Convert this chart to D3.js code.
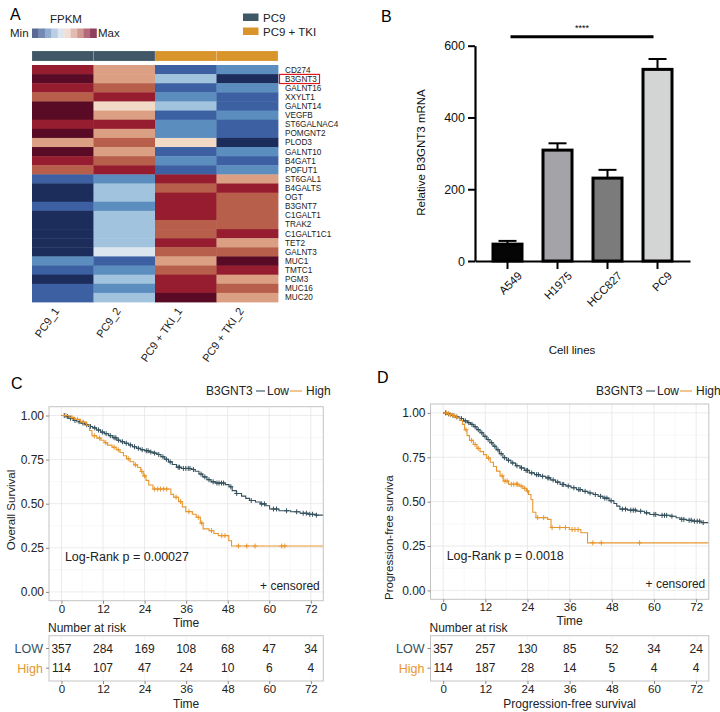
<!DOCTYPE html>
<html><head><meta charset="utf-8">
<script src="https://cdn.jsdelivr.net/npm/d3@7"></script>
<style>body{margin:0;background:#fff}svg{display:block}text{font-family:"Liberation Sans",Arial,Helvetica,sans-serif}</style>
</head><body><svg id="c" width="720" height="712"></svg>
<script>
// ---------------- DATA ----------------
const genes = ["CD274","B3GNT3","GALNT16","XXYLT1","GALNT14","VEGFB","ST6GALNAC4","POMGNT2","PLOD3","GALNT10","B4GAT1","POFUT1","ST6GAL1","B4GALTS","OGT","B3GNT7","C1GALT1","TRAK2","C1GALT1C1","TET2","GALNT3","MUC1","TMTC1","PGM3","MUC16","MUC20"];
const samples = ["PC9_1","PC9_2","PC9 + TKI_1","PC9 + TKI_2"];
const sampleGroup = ["PC9","PC9","PC9 + TKI","PC9 + TKI"];
const groupNames = ["PC9","PC9 + TKI"];
// scaled FPKM (z-score) per gene: PC9_1, PC9_2, PC9+TKI_1, PC9+TKI_2
const expr = [
 [1.5,0.55,-1.5,-1.0],
 [2,0.55,-0.55,-2],
 [1.5,1.0,-1.5,-1.0],
 [1.0,1.5,-1.0,-1.5],
 [2,0.15,-0.55,-1.5],
 [2,0.55,-1.5,-1.0],
 [1.5,1.5,-1.0,-1.5],
 [2,0.55,-1.0,-1.5],
 [0.55,1.0,0.15,-2],
 [2,0.55,-1.5,-1.0],
 [1.5,1.0,-1.0,-1.5],
 [1.0,1.5,-1.5,-1.0],
 [-1.5,-1.0,1.5,0.55],
 [-2,-0.55,1.0,1.5],
 [-2,-0.55,1.5,1.0],
 [-1.5,-1.0,1.5,1.0],
 [-2,-0.55,1.5,1.0],
 [-2,-0.55,1.0,1.0],
 [-2,-0.55,1.0,1.5],
 [-2,-0.55,1.5,0.55],
 [-2,-0.15,1.0,1.0],
 [-1.0,-1.5,0.55,2],
 [-1.5,-1.0,1.0,1.5],
 [-2,-0.55,1.5,0.55],
 [-1.5,-1.0,1.5,1.0],
 [-1.5,-0.55,2,0.55]
];
const highlightGene = "B3GNT3";

const cellLines = ["A549","H1975","HCC827","PC9"];
const mrna = [47,309,231,534];
const mrnaErr = [9,19,23,29];
const mrnaTicks = [0,200,400,600];

const kmTicks = [0,12,24,36,48,60,72];
const survTicks = [0,0.25,0.5,0.75,1];
const riskGroups = ["LOW","High"];

const osLow = [[0,1],[1.2,0.994],[2.1,0.985],[3.4,0.972],[4.5,0.965],[5.6,0.957],[6.8,0.948],[7.9,0.938],[9.0,0.93],[10.1,0.918],[11.3,0.906],[12.4,0.897],[13.6,0.886],[14.8,0.874],[16.0,0.86],[17.1,0.851],[18.2,0.843],[19.4,0.833],[20.5,0.823],[21.7,0.814],[22.8,0.806],[24.0,0.8],[25.3,0.793],[26.5,0.787],[27.6,0.779],[28.7,0.766],[29.8,0.752],[30.9,0.737],[32.0,0.722],[33.2,0.707],[34.6,0.7],[37.5,0.694],[38.6,0.684],[39.7,0.668],[40.8,0.652],[42.0,0.636],[43.2,0.624],[44.5,0.617],[47.3,0.608],[48.4,0.596],[49.3,0.574],[50.5,0.558],[52.0,0.543],[53.2,0.53],[54.3,0.518],[56.0,0.51],[57.4,0.499],[59.0,0.488],[60.1,0.47],[62.8,0.46],[66.2,0.454],[68.9,0.446],[71.2,0.44],[73.5,0.435]];
const osLowCens = [0.8,1.7,2.6,3.9,5.1,6.2,7.3,8.4,9.6,10.7,11.8,12.9,14.1,15.2,15.7,16.5,17.6,18.7,19.9,21.1,22.2,23.3,24.5,25.0,25.8,26.9,28.1,29.3,30.3,31.4,33.7,34.1,35.2,35.9,36.6,37.1,38.1,40.3,41.4,42.6,43.8,44.9,45.5,46.2,46.8,48.9,50.6,54.8,57.8,58.6,61.2,62.1,65.0,67.9,69.8,70.7,71.7,72.5,73.6];
const osHigh = [[0,1],[2.2,0.99],[3.8,0.978],[5.5,0.963],[7.2,0.945],[8.1,0.915],[8.8,0.885],[10.2,0.872],[11.4,0.86],[12.3,0.846],[13.3,0.832],[14.6,0.82],[15.8,0.806],[16.9,0.79],[17.9,0.772],[18.8,0.755],[19.8,0.738],[20.9,0.72],[22.0,0.705],[22.9,0.683],[23.6,0.658],[24.4,0.632],[25.2,0.606],[26.4,0.583],[31.6,0.553],[32.4,0.537],[33.8,0.512],[34.9,0.482],[35.9,0.455],[37.8,0.44],[38.9,0.423],[40.1,0.39],[40.9,0.357],[42.6,0.347],[44.0,0.331],[45.3,0.319],[48.3,0.29],[49.1,0.26]];
const osHighCens = [1.3,3.0,4.6,6.3,9.5,11.0,12.8,15.2,16.4,19.3,21.4,23.2,24.0,26.9,27.8,28.6,29.5,30.4,33.1,34.4,36.8,39.5,40.5,43.3,46.3,47.2,51.1,53.5,55.9,63.6,64.5];

const pfsLow = [[0,1],[1.1,0.994],[2.3,0.985],[3.5,0.977],[4.7,0.968],[5.8,0.955],[6.9,0.945],[7.8,0.935],[8.7,0.922],[9.6,0.905],[10.5,0.888],[11.4,0.868],[12.4,0.85],[13.3,0.832],[14.2,0.812],[15.1,0.792],[16.0,0.77],[17.0,0.748],[18.1,0.733],[19.3,0.718],[20.6,0.702],[21.9,0.69],[23.1,0.676],[24.5,0.662],[26.0,0.652],[27.6,0.643],[29.2,0.634],[30.6,0.622],[32.0,0.61],[33.3,0.597],[34.9,0.588],[36.4,0.578],[38.0,0.568],[39.7,0.558],[41.2,0.549],[42.7,0.54],[44.1,0.53],[45.5,0.52],[47.2,0.505],[48.6,0.49],[49.4,0.475],[50.3,0.458],[52.5,0.452],[55.1,0.446],[57.3,0.437],[58.8,0.428],[61.2,0.423],[64.6,0.418],[66.3,0.409],[67.4,0.4],[69.2,0.395],[71.1,0.39],[73.4,0.382]];
const pfsLowCens = [0.7,1.6,2.8,3.9,5.2,6.3,7.3,8.2,9.1,10.0,11.0,11.9,12.8,13.8,14.7,15.6,16.5,17.5,18.6,19.8,21.0,22.3,23.6,24.0,25.2,26.6,27.1,28.3,29.8,30.1,31.3,32.6,33.9,34.3,35.6,37.2,38.6,39.0,40.4,41.8,43.3,44.8,46.0,46.6,47.8,51.0,51.9,53.4,54.1,54.7,56.2,57.9,60.0,60.5,62.3,63.0,63.6,65.1,67.9,68.5,70.0,70.6,71.5,72.3,73.0,74.0];
const pfsHigh = [[0,1],[1.5,0.99],[2.6,0.983],[3.8,0.972],[4.7,0.958],[5.5,0.935],[6.1,0.905],[6.8,0.872],[7.5,0.845],[8.6,0.822],[9.6,0.8],[10.5,0.782],[11.5,0.765],[12.4,0.745],[13.4,0.722],[14.3,0.698],[15.2,0.672],[16.2,0.645],[17.1,0.616],[18.6,0.598],[21.6,0.588],[22.7,0.575],[23.7,0.56],[24.3,0.54],[25.0,0.512],[25.5,0.44],[26.4,0.41],[29.7,0.4],[30.7,0.354],[35.9,0.343],[39.2,0.325],[41.1,0.268]];
const pfsHighCens = [0.9,2.1,3.3,6.5,8.1,9.1,10.0,12.9,16.8,17.6,18.2,19.4,20.1,20.8,21.2,22.2,23.2,24.0,26.9,28.6,31.0,33.2,34.8,36.7,37.5,38.4,42.6,45.0,55.9];

const osRiskLow = [357,284,169,108,68,47,34];
const osRiskHigh = [114,107,47,24,10,6,4];
const pfsRiskLow = [357,257,130,85,52,34,24];
const pfsRiskHigh = [114,187,28,14,5,4,4];

// ---------------- STYLE ----------------
const heatStops = [-2,-1.5,-1,-0.55,-0.15,0.15,0.55,1,1.5,2];
const heatColors = ["#1c2c5b","#3d60a2","#5b8dbf","#a1c3de","#dbe6ef","#f2dbc6","#dba083","#b85f4b","#961d2f","#590b25"];
const legendBarColors = ["#5a6a95","#7288b5","#93acd0","#b9cde3","#dde6ef","#f1ded6","#e2bcb1","#cf9892","#b46a7a","#8e3f5e"];
const groupColors = {"PC9":"#3f5766","PC9 + TKI":"#d9952b"};
const barFills = ["#050505","#a3a3a8","#7b7b7b","#d3d5d4"];
const cLow = "#34505d", cHigh = "#e8962e";
const FONT = '"Liberation Sans",Arial,sans-serif';

const svg = d3.select("#c");

// ================= PANEL A =================
const gA = svg.append("g");
gA.append("text").attr("x",10).attr("y",19.5).attr("font-size",16).text("A");
gA.append("text").attr("x",50).attr("y",23).attr("font-size",11.5).attr("fill","#222").text("FPKM");
gA.append("text").attr("x",10).attr("y",37).attr("font-size",11.5).attr("fill","#222").text("Min");
gA.append("text").attr("x",98).attr("y",37).attr("font-size",11.5).attr("fill","#222").text("Max");
const xLeg = d3.scaleBand().domain(d3.range(legendBarColors.length)).range([32,96.5]);
gA.selectAll("rect.leg").data(legendBarColors).join("rect")
  .attr("x",(d,i)=>xLeg(i)).attr("y",28.5).attr("width",xLeg.bandwidth()+0.3).attr("height",9.5).attr("fill",d=>d);

const yGrp = d3.scaleBand().domain(groupNames).range([11,39]);
groupNames.forEach(gn=>{
  gA.append("rect").attr("x",243).attr("y",yGrp(gn)+2.5).attr("width",15.5).attr("height",7.5).attr("fill",groupColors[gn]);
  gA.append("text").attr("x",263).attr("y",yGrp(gn)+10.5).attr("font-size",11.5).attr("fill","#222").text(gn);
});

const xA = d3.scaleBand().domain(samples).range([32,278]);
const yA = d3.scaleBand().domain(genes).range([65,302]);
const heatColor = d3.scaleLinear().domain(heatStops).range(heatColors);

gA.selectAll("rect.ann").data(samples).join("rect")
  .attr("x",d=>xA(d)).attr("y",51).attr("width",xA.bandwidth()).attr("height",10)
  .attr("fill",(d,i)=>groupColors[sampleGroup[i]]).attr("stroke","#fff").attr("stroke-opacity",0.25).attr("stroke-width",0.5);

const cells = [];
genes.forEach((g,i)=>samples.forEach((s,j)=>cells.push({g,s,v:expr[i][j]})));
gA.selectAll("rect.cell").data(cells).join("rect")
  .attr("x",d=>xA(d.s)).attr("y",d=>yA(d.g)).attr("width",xA.bandwidth()+0.4).attr("height",yA.bandwidth()+0.4)
  .attr("fill",d=>heatColor(d.v));

gA.selectAll("text.gene").data(genes).join("text")
  .attr("x",285).attr("y",d=>yA(d)+yA.bandwidth()/2).attr("dy","0.36em")
  .attr("font-size",8.2).attr("fill","#222").text(d=>d);
gA.append("rect").attr("x",279.5).attr("y",yA(highlightGene)+0.3).attr("width",40).attr("height",yA.bandwidth())
  .attr("fill","none").attr("stroke","#e0191e").attr("stroke-width",1.2);

gA.selectAll("text.samp").data(samples).join("text")
  .attr("transform",d=>`translate(${xA(d)+xA.bandwidth()/2-3},311) rotate(-55)`)
  .attr("text-anchor","end").attr("font-size",11).attr("fill","#222").text(d=>d);

// ================= PANEL B =================
const gB = svg.append("g");
gB.append("text").attr("x",381).attr("y",21.5).attr("font-size",16).text("B");
const xB = d3.scaleBand().domain(cellLines).range([475,690]).paddingInner(0).paddingOuter(0.15);
const yB = d3.scaleLinear().domain([0,600]).range([261,45.7]);
const barW = 29;

const axY = gB.append("g").attr("transform","translate(475,0)")
  .call(d3.axisLeft(yB).tickValues(mrnaTicks).tickSize(7).tickSizeOuter(0).tickPadding(3));
const axX = gB.append("g").attr("transform","translate(0,261)")
  .call(d3.axisBottom(xB).tickSize(8).tickSizeOuter(0).tickPadding(4));
[axY,axX].forEach(a=>{
  a.select(".domain").attr("stroke","#000").attr("stroke-width",2.2);
  a.selectAll(".tick line").attr("stroke","#000").attr("stroke-width",2);
  a.selectAll("text").attr("font-family",FONT).attr("fill","#111");
});
axY.selectAll("text").attr("font-size",12.5);
axX.selectAll("text").attr("font-size",11.5).attr("text-anchor","end")
  .attr("transform","translate(2,2) rotate(-45)").attr("dy","0.6em");

const bars = cellLines.map((c,i)=>({c,v:mrna[i],e:mrnaErr[i],f:barFills[i]}));
gB.selectAll("line.err").data(bars).join("line")
  .attr("x1",d=>xB(d.c)+xB.bandwidth()/2).attr("x2",d=>xB(d.c)+xB.bandwidth()/2)
  .attr("y1",d=>yB(d.v)).attr("y2",d=>yB(d.v+d.e)).attr("stroke","#000").attr("stroke-width",2);
gB.selectAll("line.cap").data(bars).join("line")
  .attr("x1",d=>xB(d.c)+xB.bandwidth()/2-9).attr("x2",d=>xB(d.c)+xB.bandwidth()/2+9)
  .attr("y1",d=>yB(d.v+d.e)).attr("y2",d=>yB(d.v+d.e)).attr("stroke","#000").attr("stroke-width",2);
gB.selectAll("rect.bar").data(bars).join("rect")
  .attr("x",d=>xB(d.c)+(xB.bandwidth()-barW)/2).attr("y",d=>yB(d.v)).attr("width",barW)
  .attr("height",d=>yB(0)-yB(d.v)).attr("fill",d=>d.f).attr("stroke","#000").attr("stroke-width",3);

const sx1 = xB(cellLines[0])+xB.bandwidth()/2+3, sx2 = xB(cellLines[3])+xB.bandwidth()/2-4;
gB.append("line").attr("x1",sx1).attr("x2",sx2).attr("y1",36.7).attr("y2",36.7).attr("stroke","#000").attr("stroke-width",3);
gB.append("text").attr("x",(sx1+sx2)/2).attr("y",31).attr("text-anchor","middle").attr("font-size",9).text("****");
gB.append("text").attr("transform","translate(425,152.5) rotate(-90)").attr("text-anchor","middle")
  .attr("font-size",11.5).attr("fill","#111").text("Relative B3GNT3 mRNA");
gB.append("text").attr("x",572).attr("y",354).attr("text-anchor","middle").attr("font-size",11.5).attr("fill","#111").text("Cell lines");

// ================= KM PANELS =================
function stepAt(steps,t){let s=steps[0][1];for(const p of steps){if(p[0]<=t)s=p[1];else break;}return s;}

function styleAxis(a){
  a.select(".domain").remove();
  a.selectAll(".tick line").attr("stroke","#888");
  a.selectAll("text").attr("font-size",11.5).attr("fill","#222").attr("font-family",FONT);
}

function drawKM(cfg){
  const g = svg.append("g");
  const x = d3.scaleLinear().domain([-3.6,75.6]).range([cfg.x0,cfg.x1]);
  const y = d3.scaleLinear().domain([-0.05,1.05]).range([cfg.y1,cfg.y0]);
  g.append("text").attr("x",cfg.letterX).attr("y",cfg.letterY).attr("font-size",16).text(cfg.letter);
  // legend
  const lx = cfg.legendX, ly = 395;
  g.append("text").attr("x",lx).attr("y",ly).attr("font-size",12).attr("fill","#222").text("B3GNT3");
  g.append("line").attr("x1",lx+50).attr("x2",lx+59).attr("y1",ly-4).attr("y2",ly-4).attr("stroke",cLow).attr("stroke-width",1.1);
  g.append("text").attr("x",lx+61).attr("y",ly).attr("font-size",12).attr("fill","#222").text("Low");
  g.append("line").attr("x1",lx+84).attr("x2",lx+96).attr("y1",ly-4).attr("y2",ly-4).attr("stroke",cHigh).attr("stroke-width",1.1);
  g.append("text").attr("x",lx+100).attr("y",ly).attr("font-size",12).attr("fill","#222").text("High");

  // grid
  const minorX = d3.range(6,75,12), minorY = [0.125,0.375,0.625,0.875];
  g.selectAll("line.mx").data(minorX).join("line").attr("x1",d=>x(d)).attr("x2",d=>x(d)).attr("y1",cfg.y0).attr("y2",cfg.y1).attr("stroke","#f3f3f3").attr("stroke-width",0.6);
  g.selectAll("line.my").data(minorY).join("line").attr("y1",d=>y(d)).attr("y2",d=>y(d)).attr("x1",cfg.x0).attr("x2",cfg.x1).attr("stroke","#f3f3f3").attr("stroke-width",0.6);
  g.selectAll("line.gx").data(kmTicks).join("line").attr("x1",d=>x(d)).attr("x2",d=>x(d)).attr("y1",cfg.y0).attr("y2",cfg.y1).attr("stroke","#e6e6e6").attr("stroke-width",0.8);
  g.selectAll("line.gy").data(survTicks).join("line").attr("y1",d=>y(d)).attr("y2",d=>y(d)).attr("x1",cfg.x0).attr("x2",cfg.x1).attr("stroke","#e6e6e6").attr("stroke-width",0.8);

  const clipId = "clip"+cfg.letter;
  svg.append("clipPath").attr("id",clipId).append("rect").attr("x",cfg.x0).attr("y",cfg.y0).attr("width",cfg.x1-cfg.x0).attr("height",cfg.y1-cfg.y0);
  const line = d3.line().x(d=>x(d[0])).y(d=>y(d[1])).curve(d3.curveStepAfter);
  const series = [{s:cfg.low,c:cfg.lowC,col:cLow},{s:cfg.high,c:cfg.highC,col:cHigh}];
  const pg = g.append("g").attr("clip-path",`url(#${clipId})`);
  series.forEach(sr=>{
    const pts = sr.s.concat([[75.6,sr.s[sr.s.length-1][1]]]);
    pg.append("path").attr("d",line(pts)).attr("fill","none").attr("stroke",sr.col).attr("stroke-width",1.1);
    pg.selectAll(null).data(sr.c).join("path")
      .attr("d",t=>{const px=x(t),py=y(stepAt(sr.s,t));return `M${px-2.5},${py}h5M${px},${py-2.5}v5`;})
      .attr("stroke",sr.col).attr("stroke-width",1);
  });
  g.append("rect").attr("x",cfg.x0).attr("y",cfg.y0).attr("width",cfg.x1-cfg.x0).attr("height",cfg.y1-cfg.y0)
    .attr("fill","none").attr("stroke","#c4c4c4").attr("stroke-width",1);

  // axes
  const ay = g.append("g").attr("transform",`translate(${cfg.x0},0)`)
    .call(d3.axisLeft(y).tickValues(survTicks).tickFormat(d3.format(".2f")).tickSize(3).tickPadding(2));
  const ax = g.append("g").attr("transform",`translate(0,${cfg.y1})`)
    .call(d3.axisBottom(x).tickValues(kmTicks).tickSize(3).tickPadding(1));
  styleAxis(ay); styleAxis(ax);
  ay.selectAll("text").attr("font-size",12);
  g.append("text").attr("x",(cfg.x0+cfg.x1)/2).attr("y",cfg.y1+26).attr("text-anchor","middle").attr("font-size",12).attr("fill","#222").text("Time");
  g.append("text").attr("transform",`translate(${cfg.yTitleX},${cfg.yTitleY}) rotate(-90)`).attr("text-anchor",cfg.yTitleAnchor)
    .attr("font-size",11.5).attr("fill","#222").text(cfg.yTitle);
  g.append("text").attr("x",x(1)).attr("y",cfg.pY).attr("font-size",12.5).attr("fill","#222").text(cfg.pText);
  g.append("text").attr("x",cfg.x1-3.5).attr("y",cfg.y1-11).attr("text-anchor","end").attr("font-size",12).attr("fill","#222").text("+ censored");

  // risk table
  const r0 = 635.7, r1 = 681;
  const yr = d3.scaleBand().domain(riskGroups).range([r0+3,r1-3]);
  g.append("text").attr("x",cfg.x0-1).attr("y",631.5).attr("font-size",12).attr("fill","#222").text("Number at risk");
  g.selectAll("line.rg").data(kmTicks).join("line").attr("x1",d=>x(d)).attr("x2",d=>x(d)).attr("y1",r0).attr("y2",r1).attr("stroke","#f0f0f0").attr("stroke-width",0.7);
  g.append("rect").attr("x",cfg.x0).attr("y",r0).attr("width",cfg.x1-cfg.x0).attr("height",r1-r0).attr("fill","none").attr("stroke","#c4c4c4");
  const rows = [{k:"LOW",v:cfg.riskLow,col:cLow},{k:"High",v:cfg.riskHigh,col:cHigh}];
  rows.forEach(rw=>{
    const cy = yr(rw.k)+yr.bandwidth()/2;
    g.append("text").attr("x",cfg.x0-6).attr("y",cy).attr("dy","0.36em").attr("text-anchor","end").attr("font-size",12.5).attr("fill",rw.col).text(rw.k);
    g.append("line").attr("x1",cfg.x0-3).attr("x2",cfg.x0).attr("y1",cy).attr("y2",cy).attr("stroke","#888");
    g.selectAll(null).data(rw.v).join("text").attr("x",(d,i)=>x(kmTicks[i])).attr("y",cy).attr("dy","0.36em")
      .attr("text-anchor","middle").attr("font-size",12).attr("fill","#222").text(d=>d);
  });
  const ar = g.append("g").attr("transform",`translate(0,${r1})`)
    .call(d3.axisBottom(x).tickValues(kmTicks).tickSize(3).tickPadding(1));
  styleAxis(ar);
  g.append("text").attr("x",(cfg.x0+cfg.x1)/2).attr("y",707.5).attr("text-anchor","middle").attr("font-size",12).attr("fill","#222").text(cfg.riskTitle);
}

drawKM({letter:"C",letterX:11,letterY:389,x0:49,x1:323.3,y0:406.7,y1:600.7,legendX:206,
  low:osLow,high:osHigh,lowC:osLowCens,highC:osHighCens,pText:"Log-Rank p = 0.00027",pY:561,
  yTitle:"Overall Survival",yTitleX:15,yTitleY:510,yTitleAnchor:"middle",
  riskLow:osRiskLow,riskHigh:osRiskHigh,riskTitle:"Time"});
drawKM({letter:"D",letterX:377,letterY:383,x0:430.5,x1:708.8,y0:404,y1:599.3,legendX:596,
  low:pfsLow,high:pfsHigh,lowC:pfsLowCens,highC:pfsHighCens,pText:"Log-Rank p = 0.0018",pY:560,
  yTitle:"Progression-free surviva",yTitleX:393,yTitleY:600,yTitleAnchor:"start",
  riskLow:pfsRiskLow,riskHigh:pfsRiskHigh,riskTitle:"Progression-free survival"});
</script></body></html>
